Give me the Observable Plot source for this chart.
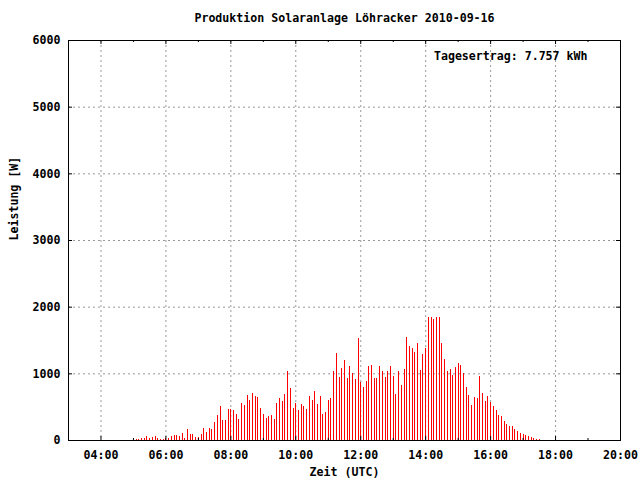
<!DOCTYPE html>
<html><head><meta charset="utf-8">
<script src="https://cdn.jsdelivr.net/npm/d3@7"></script>
<script src="https://cdn.jsdelivr.net/npm/@observablehq/plot@0.6"></script>
<style>body{margin:0;background:#fff}</style>
</head><body><div id="chart"></div>
<script>
const title = "Produktion Solaranlage Löhracker 2010-09-16";
const yieldLabel = "Tagesertrag: 7.757 kWh";
const xLabel = "Zeit (UTC)";
const yLabel = "Leistung [W]";
const startTime = "05:05";
const stepMinutes = 5;
// Power in W, one bar per 5-minute interval from 05:05 to 17:30
const power = [
  15,15,30,30,60,30,45,60,30,15,15,
  30,30,60,75,75,60,105,30,165,90,90,45,
  45,90,180,120,180,165,270,375,510,300,300,465,
  465,450,390,315,555,525,675,600,705,660,645,480,
  390,330,360,375,315,555,630,585,690,1035,780,480,
  555,450,540,510,465,660,600,735,540,660,390,420,
  600,630,1035,1305,945,1080,1200,930,1110,1005,915,1530,
  870,795,885,1110,1125,930,930,1110,1035,945,1035,1110,
  960,690,1035,825,1065,1545,1410,1380,1320,1455,1050,1290,
  1380,1845,1845,1815,1845,1845,1455,1215,1035,1065,975,1095,
  1155,1125,1005,795,675,525,645,630,960,705,585,660,
  570,510,450,375,360,285,240,210,210,165,135,105,
  90,75,60,45,30,15,15
];
const xMajorTicks = [4,6,8,10,12,14,16,18,20];
const xMinorTicks = [5,7,9,11,13,15,17,19];
const yTicks = [0,1000,2000,3000,4000,5000,6000];
const xDomain = [3,20];
const yDomain = [0,6000];

const [sh, sm] = startTime.split(":").map(Number);
const data = power.map((w, i) => ({h: (sh*60 + sm + i*stepMinutes)/60, w}));

const W = 640, H = 480, mL = 68, mR = 20, mT = 40, mB = 40;
const pxY = (yDomain[1]-yDomain[0])/(H-mT-mB);   // W per pixel
const pxX = (xDomain[1]-xDomain[0])/(W-mL-mR);   // hours per pixel
const major = 4, minor = 2;
const fmt = h => String(h).padStart(2,"0") + ":00";
const font = "DejaVu Sans Mono";

const chart = Plot.plot({
  width: W, height: H,
  marginLeft: mL, marginRight: mR, marginTop: mT, marginBottom: mB,
  style: {fontFamily: font, fontSize: "11.6px", fontWeight: "bold", background: "white", color: "black"},
  x: {domain: xDomain, label: null},
  y: {domain: yDomain, label: null},
  marks: [
    Plot.gridX(xMajorTicks.slice(0,-1), {stroke: "#999999", strokeOpacity: 1, strokeDasharray: "2,3"}),
    Plot.gridY(yTicks.slice(1,-1), {stroke: "#999999", strokeOpacity: 1, strokeDasharray: "2,3"}),
    Plot.ruleX(data, {x: "h", y1: 0, y2: "w", stroke: "#ff0000", strokeWidth: 1, shapeRendering: "crispEdges"}),
    // inward ticks, bottom & top
    Plot.ruleX(xMajorTicks, {x: d => d, y1: yDomain[0], y2: yDomain[0] + major*pxY, stroke: "black"}),
    Plot.ruleX(xMinorTicks, {x: d => d, y1: yDomain[0], y2: yDomain[0] + minor*pxY, stroke: "black"}),
    Plot.ruleX(xMajorTicks, {x: d => d, y1: yDomain[1], y2: yDomain[1] - major*pxY, stroke: "black"}),
    Plot.ruleX(xMinorTicks, {x: d => d, y1: yDomain[1], y2: yDomain[1] - minor*pxY, stroke: "black"}),
    // inward ticks, left & right
    Plot.ruleY(yTicks, {y: d => d, x1: xDomain[0], x2: xDomain[0] + major*pxX, stroke: "black"}),
    Plot.ruleY(yTicks, {y: d => d, x1: xDomain[1], x2: xDomain[1] - major*pxX, stroke: "black"}),
    Plot.frame({stroke: "black"}),
    Plot.axisX(xMajorTicks, {tickSize: 0, tickPadding: 10, tickFormat: fmt, label: null, fontWeight: "bold"}),
    Plot.axisY(yTicks, {tickSize: 0, tickPadding: 8, tickFormat: d => String(d), label: null, fontWeight: "bold"}),
    Plot.text([title], {frameAnchor: "top", lineAnchor: "middle", dy: -22, fontWeight: "bold"}),
    Plot.text([yieldLabel], {frameAnchor: "top-right", lineAnchor: "middle", textAnchor: "end", dx: -33, dy: 16, fontWeight: "bold"}),
    Plot.text([xLabel], {frameAnchor: "bottom", lineAnchor: "middle", dy: 32, fontWeight: "bold"}),
    Plot.text([yLabel], {frameAnchor: "left", lineAnchor: "middle", dx: -54, rotate: -90, fontWeight: "bold"})
  ]
});
document.getElementById("chart").appendChild(chart);
</script>
</body></html>
